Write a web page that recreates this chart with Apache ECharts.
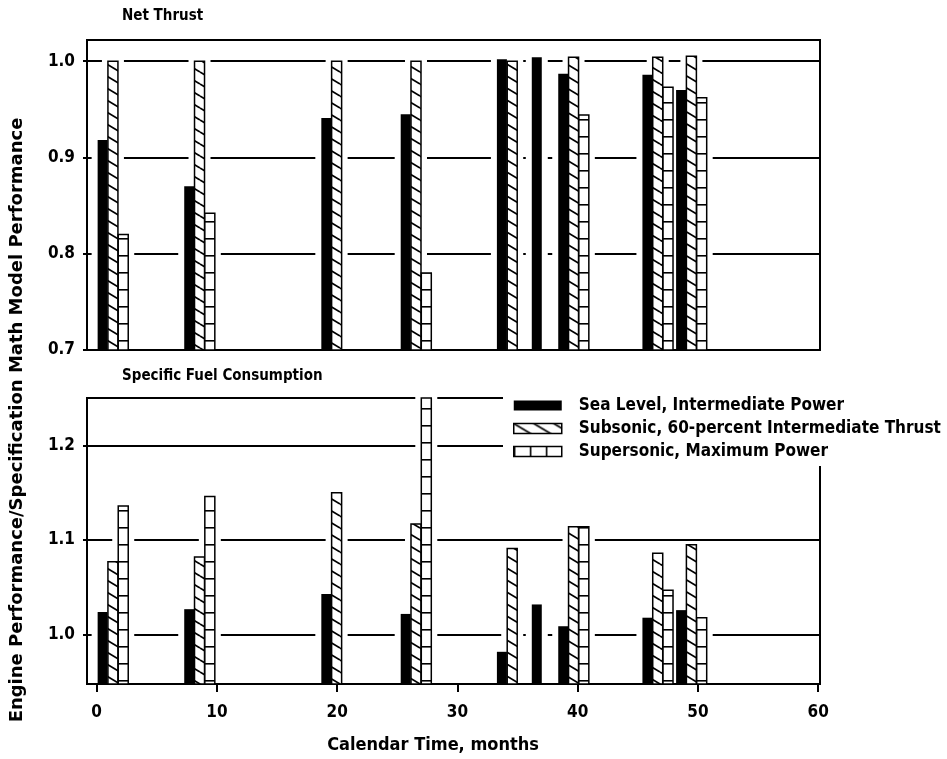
<!DOCTYPE html>
<html><head><meta charset="utf-8">
<script src="https://cdn.jsdelivr.net/npm/echarts@6/dist/echarts.min.js"></script>
<style>html,body{margin:0;padding:0;background:#fff}#c{width:947px;height:759px}</style>
</head><body><div id="c"></div>
<script>
// ---- data ----
const months = [0.5, 7.7, 19.1, 25.7, 33.7, 36.6, 38.8, 45.8, 48.6];
const seriesNames = ['Sea Level, Intermediate Power', 'Subsonic, 60-percent Intermediate Thrust', 'Supersonic, Maximum Power'];
const thrustSeaLevel = [0.918, 0.870, 0.941, 0.945, 1.002, 1.004, 0.987, 0.986, 0.970];
const thrustSubsonic = [1.000, 1.000, 1.000, 1.000, 1.000, null, 1.004, 1.004, 1.005];
const thrustSupersonic = [0.820, 0.842, null, 0.780, null, null, 0.944, 0.973, 0.962];
const sfcSeaLevel = [1.024, 1.027, 1.043, 1.022, 0.982, 1.032, 1.009, 1.018, 1.026];
const sfcSubsonic = [1.077, 1.082, 1.150, 1.117, 1.091, null, 1.114, 1.086, 1.095];
const sfcSupersonic = [1.136, 1.146, null, 1.250, null, null, 1.114, 1.047, 1.018];
const xTicks = [0, 10, 20, 30, 40, 50, 60];
const thrustTicks = [0.7, 0.8, 0.9, 1.0];
const sfcTicks = [1.0, 1.1, 1.2];
const panelTitles = ['Net Thrust', 'Specific Fuel Consumption'];
const xName = 'Calendar Time, months';
const yName = 'Engine Performance/Specification Math Model Performance';

// ---- styles ----
const FONT = "'Liberation Sans Narrow','DejaVu Sans Condensed','Liberation Sans',sans-serif";
const WIDE_FONT = "'DejaVu Sans','Liberation Sans',sans-serif";
const BAR_W = 10, BAR_STEP = 10.3, HALO = 6;
const yRanges = [[0.7, 1.022], [0.948, 1.25]];

function makeCanvas(w, h, draw) {
  const c = document.createElement('canvas'); c.width = w; c.height = h;
  const g = c.getContext('2d'); g.fillStyle = '#fff'; g.fillRect(0, 0, w, h);
  g.strokeStyle = '#000'; draw(g); return c;
}
const hatchImg = makeCanvas(20, 12, g => {
  g.lineWidth = 1.7;
  [-12, 0, 12].forEach(dy => { g.beginPath(); g.moveTo(0, dy); g.lineTo(20, dy + 12); g.stroke(); });
});
const brickImg = makeCanvas(10, 17, g => {
  g.lineWidth = 1.6; g.beginPath(); g.moveTo(0, 0.8); g.lineTo(10, 0.8); g.stroke();
});
const brickLegendImg = makeCanvas(16, 10, g => {
  g.lineWidth = 1.6; g.beginPath(); g.moveTo(0.8, 0); g.lineTo(0.8, 10); g.stroke();
});
const fills = ['#000', { image: hatchImg, repeat: 'repeat' }, { image: brickImg, repeat: 'repeat' }];
const legendFills = ['#000', { image: hatchImg, repeat: 'repeat' }, { image: brickLegendImg, repeat: 'repeat' }];

function pairs(vals) {
  const out = [];
  months.forEach((m, i) => { if (vals[i] != null) out.push([m, vals[i]]); });
  return out;
}

function barSeries(panel, slot, vals) {
  const base = yRanges[panel][0];
  return {
    type: 'custom', name: seriesNames[slot], xAxisIndex: panel, yAxisIndex: panel, z: 3,
    itemStyle: { color: slot === 0 ? '#000' : '#fff', borderColor: '#000' },
    data: pairs(vals),
    renderItem(params, api) {
      const x = api.value(0), v = api.value(1);
      const p0 = api.coord([x, base]), p1 = api.coord([x, v]);
      const cx = p0[0] + slot * BAR_STEP;
      return {
        type: 'rect',
        shape: { x: cx - BAR_W / 2, y: p1[1], width: BAR_W, height: p0[1] - p1[1] },
        style: slot === 0 ? { fill: '#000' } : { fill: fills[slot], stroke: '#000', lineWidth: 1.5 }
      };
    }
  };
}

function haloSeries(panel, a, b, c) {
  const base = yRanges[panel][0];
  return {
    type: 'custom', xAxisIndex: panel, yAxisIndex: panel, z: 2, silent: true,
    data: months.map((m, i) => [m, a[i] == null ? NaN : a[i], b[i] == null ? NaN : b[i], c[i] == null ? NaN : c[i]]),
    renderItem(params, api) {
      const x = api.value(0);
      const kids = [];
      for (let s = 0; s < 3; s++) {
        const v = api.value(s + 1);
        if (isNaN(v)) continue;
        const p0 = api.coord([x, base]), p1 = api.coord([x, v]);
        const cx = p0[0] + s * BAR_STEP;
        kids.push({ type: 'rect', shape: { x: cx - BAR_W / 2 - HALO, y: p1[1] - 3, width: BAR_W + 2 * HALO, height: p0[1] - p1[1] + 3 - 2 }, style: { fill: '#fff' } });
      }
      return { type: 'group', children: kids };
    }
  };
}

function yAxis(panel, ticks) {
  return {
    type: 'value', gridIndex: panel, min: yRanges[panel][0], max: yRanges[panel][1],
    axisLine: { show: true, onZero: false, lineStyle: { color: '#000', width: 2 } },
    axisTick: { show: true, inside: false, length: 4, customValues: ticks, lineStyle: { color: '#000', width: 2 } },
    axisLabel: { customValues: ticks, margin: 12, color: '#000', fontFamily: FONT, fontSize: 17, fontWeight: 'bold', formatter: v => v.toFixed(1) },
    splitLine: { show: true, lineStyle: { color: '#000', width: 1.8 } }
  };
}
function xAxis(panel, showLabels) {
  return {
    type: 'value', gridIndex: panel, min: -0.8, max: 60.15,
    axisLine: { show: true, onZero: false, lineStyle: { color: '#000', width: 2 } },
    axisTick: { show: showLabels, inside: false, length: 8, customValues: xTicks, lineStyle: { color: '#000', width: 2 } },
    axisLabel: { show: showLabels, customValues: xTicks, margin: 20, color: '#000', fontFamily: FONT, fontSize: 17, fontWeight: 'bold' },
    splitLine: { show: false }
  };
}

const chart = echarts.init(document.getElementById('c'), null, { renderer: 'canvas' });
chart.setOption({
  animation: false,
  backgroundColor: '#fff',
  title: [
    { text: panelTitles[0], left: 122, top: 9, padding: 0, textStyle: { fontFamily: FONT, fontSize: 15, fontWeight: 'bold', color: '#000' } },
    { text: panelTitles[1], left: 122, top: 369, padding: 0, textStyle: { fontFamily: FONT, fontSize: 15, fontWeight: 'bold', color: '#000' } }
  ],
  grid: [
    { left: 87, top: 40, width: 733, height: 310, show: true, borderColor: '#000', borderWidth: 2, backgroundColor: 'transparent' },
    { left: 87, top: 398, width: 733, height: 286, show: true, borderColor: '#000', borderWidth: 2, backgroundColor: 'transparent' }
  ],
  xAxis: [xAxis(0, false), xAxis(1, true)],
  yAxis: [yAxis(0, thrustTicks), yAxis(1, sfcTicks)],
  legend: {
    orient: 'vertical', left: 503, top: 389, padding: [8, 4, 6, 10], backgroundColor: '#fff',
    itemWidth: 48, itemHeight: 10, itemGap: 6, icon: 'rect', selectedMode: false,
    textStyle: { fontFamily: FONT, fontSize: 17, fontWeight: 'bold', color: '#000', padding: [0, 0, 0, 12] },
    data: seriesNames.map((n, i) => ({ name: n, itemStyle: { color: legendFills[i], borderColor: '#000', borderWidth: i === 0 ? 0 : 1.5 } }))
  },
  graphic: [
    { type: 'text', x: 17, y: 420, rotation: Math.PI / 2, style: { text: yName, fontFamily: WIDE_FONT, fontSize: 18, fontWeight: 'bold', fill: '#000', align: 'center', verticalAlign: 'middle' } },
    { type: 'text', x: 433, y: 745, style: { text: xName, fontFamily: FONT, fontSize: 18, fontWeight: 'bold', fill: '#000', align: 'center', verticalAlign: 'middle' } }
  ],
  series: [
    haloSeries(0, thrustSeaLevel, thrustSubsonic, thrustSupersonic),
    haloSeries(1, sfcSeaLevel, sfcSubsonic, sfcSupersonic),
    barSeries(0, 0, thrustSeaLevel), barSeries(0, 1, thrustSubsonic), barSeries(0, 2, thrustSupersonic),
    barSeries(1, 0, sfcSeaLevel), barSeries(1, 1, sfcSubsonic), barSeries(1, 2, sfcSupersonic)
  ]
});
</script></body></html>
